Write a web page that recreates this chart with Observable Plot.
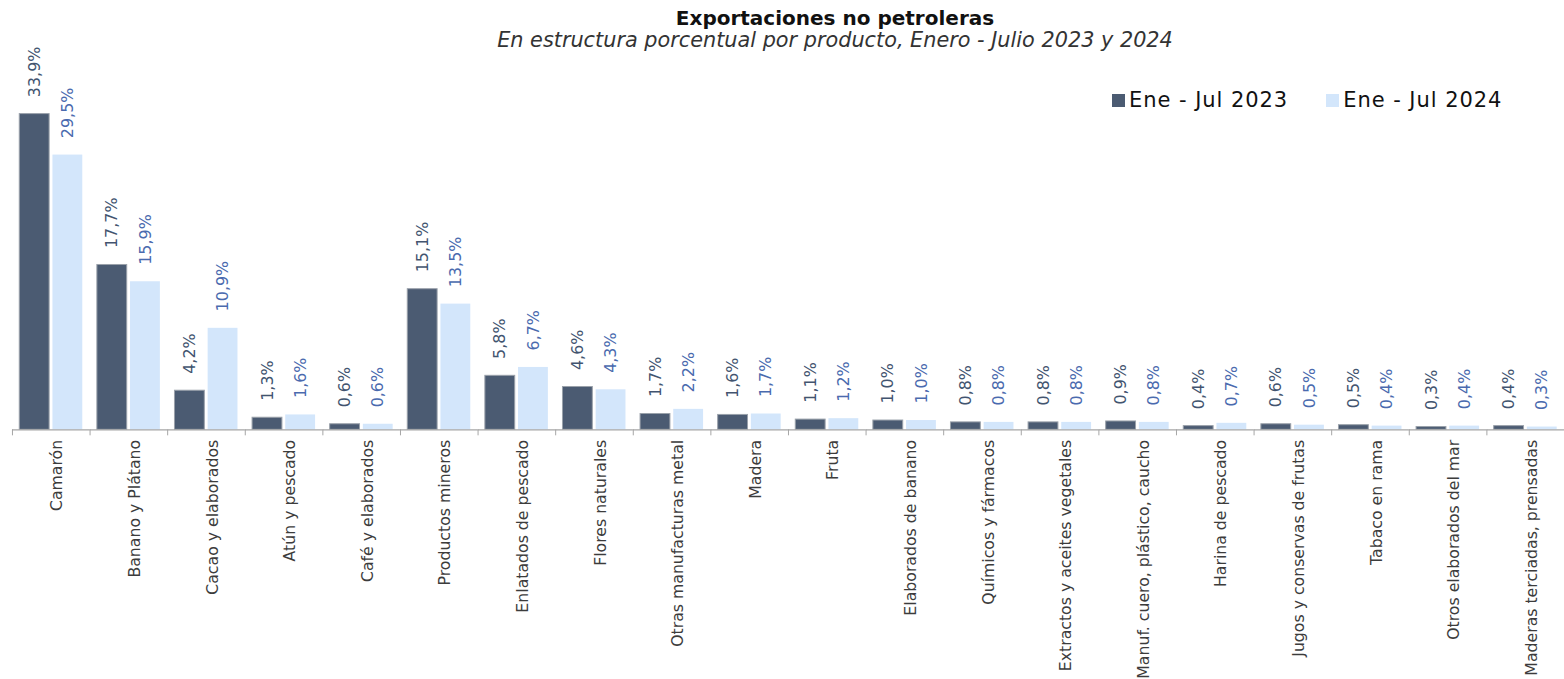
<!DOCTYPE html>
<html>
<head>
<meta charset="utf-8">
<script src="https://cdn.jsdelivr.net/npm/d3@7"></script>
<script src="https://cdn.jsdelivr.net/npm/@observablehq/plot@0.6"></script>
<style>
  html, body { margin: 0; padding: 0; background: #fff; overflow: hidden; width: 1564px; height: 679px; }
  #wrap { position: relative; width: 1564px; height: 679px; font-family: "DejaVu Sans", sans-serif; }
  #head { position: absolute; top: 0; left: 0; width: 1564px; height: 55px; box-sizing: border-box; padding-left: 106px; text-align: center; z-index: 2; }
  #title { font-weight: bold; font-size: 20px; color: #111; padding-top: 7px; line-height: 22px; }
  #subtitle { font-style: italic; font-size: 20.8px; color: #333; line-height: 23px; }
  #legend { position: absolute; top: 88px; left: 1112px; font-size: 21px; line-height: 24px; color: #111; display: flex; align-items: center; letter-spacing: 0.95px; z-index: 2; }
  #legend .item { display: flex; align-items: center; margin-right: 38px; }
  #legend .sw { width: 13px; height: 13px; margin-right: 4px; }
  #chart { position: absolute; top: 0; left: 0; }
  svg { display: block; }
</style>
</head>
<body>
<div id="wrap">
  <div id="chart"></div>
  <div id="head">
    <div id="title">Exportaciones no petroleras</div>
    <div id="subtitle">En estructura porcentual por producto, Enero - Julio 2023 y 2024</div>
  </div>
  <div id="legend"></div>
</div>
<script>
const categories = [
  "Camarón", "Banano y Plátano", "Cacao y elaborados", "Atún y pescado", "Café y elaborados",
  "Productos mineros", "Enlatados de pescado", "Flores naturales", "Otras manufacturas metal", "Madera",
  "Fruta", "Elaborados de banano", "Químicos y fármacos", "Extractos y aceites vegetales",
  "Manuf. cuero, plástico, caucho", "Harina de pescado", "Jugos y conservas de frutas",
  "Tabaco en rama", "Otros elaborados del mar", "Maderas terciadas, prensadas"
];
const series = ["Ene - Jul 2023", "Ene - Jul 2024"];
const values2023 = [33.9, 17.7, 4.2, 1.3, 0.6, 15.1, 5.8, 4.6, 1.7, 1.6, 1.1, 1.0, 0.8, 0.8, 0.9, 0.4, 0.6, 0.5, 0.3, 0.4];
const values2024 = [29.5, 15.9, 10.9, 1.6, 0.6, 13.5, 6.7, 4.3, 2.2, 1.7, 1.2, 1.0, 0.8, 0.8, 0.8, 0.7, 0.5, 0.4, 0.4, 0.3];
const barColors = ["#4B5B72", "#D3E6FB"];
const labelColors = ["#42546F", "#4A6AAE"];

const data = categories.flatMap((c, i) => [
  {cat: c, s: series[0], v: values2023[i]},
  {cat: c, s: series[1], v: values2024[i]}
]);
const fmt = v => v.toFixed(1).replace(".", ",") + "%";

const W = 1570, ML = 12, MR = 0;
const step = (W - ML - MR) / categories.length;

const chart = Plot.plot({
  width: W, height: 679,
  marginLeft: ML, marginRight: MR, marginTop: 57, marginBottom: 248,
  style: {fontFamily: "'DejaVu Sans', sans-serif", background: "transparent", overflow: "visible"},
  fx: {domain: categories, padding: 0, round: false},
  x: {domain: series, paddingInner: 0.1, paddingOuter: 0.22, round: false, axis: null},
  y: {domain: [0, 40], axis: null},
  color: {domain: series, range: barColors},
  marks: [
    Plot.barY(data.filter(d => d.s === series[0]), {fx: "cat", x: "s", y: "v", fill: "s", stroke: "#9aa1aa", strokeWidth: 1}),
    Plot.barY(data.filter(d => d.s === series[1]), {fx: "cat", x: "s", y: "v", fill: "s"}),
    Plot.ruleY([0], {stroke: "#a6a6a6", strokeWidth: 1.2}),
    Plot.text(data, {
      fx: "cat", x: "s", y: "v", text: d => fmt(d.v),
      rotate: -90, textAnchor: "start", lineAnchor: "middle", dy: -17,
      fontSize: 16, fill: d => d.s === series[0] ? labelColors[0] : labelColors[1]
    }),
    Plot.axisFx({anchor: "bottom", tickSize: 0, tickPadding: 10, rotate: -90, textAnchor: "end", fontSize: 15.8, fill: "#3c3c3c", label: null}),
    Plot.axisFx({anchor: "bottom", tickSize: 6, tickFormat: () => "", dx: -step / 2, stroke: "#a6a6a6", label: null})
  ]
});
document.getElementById("chart").appendChild(chart);

const legend = document.getElementById("legend");
series.forEach((s, i) => {
  const item = document.createElement("div");
  item.className = "item";
  const sw = document.createElement("span");
  sw.className = "sw";
  sw.style.background = barColors[i];
  const t = document.createElement("span");
  t.textContent = s;
  item.appendChild(sw); item.appendChild(t);
  legend.appendChild(item);
});
</script>
</body>
</html>
